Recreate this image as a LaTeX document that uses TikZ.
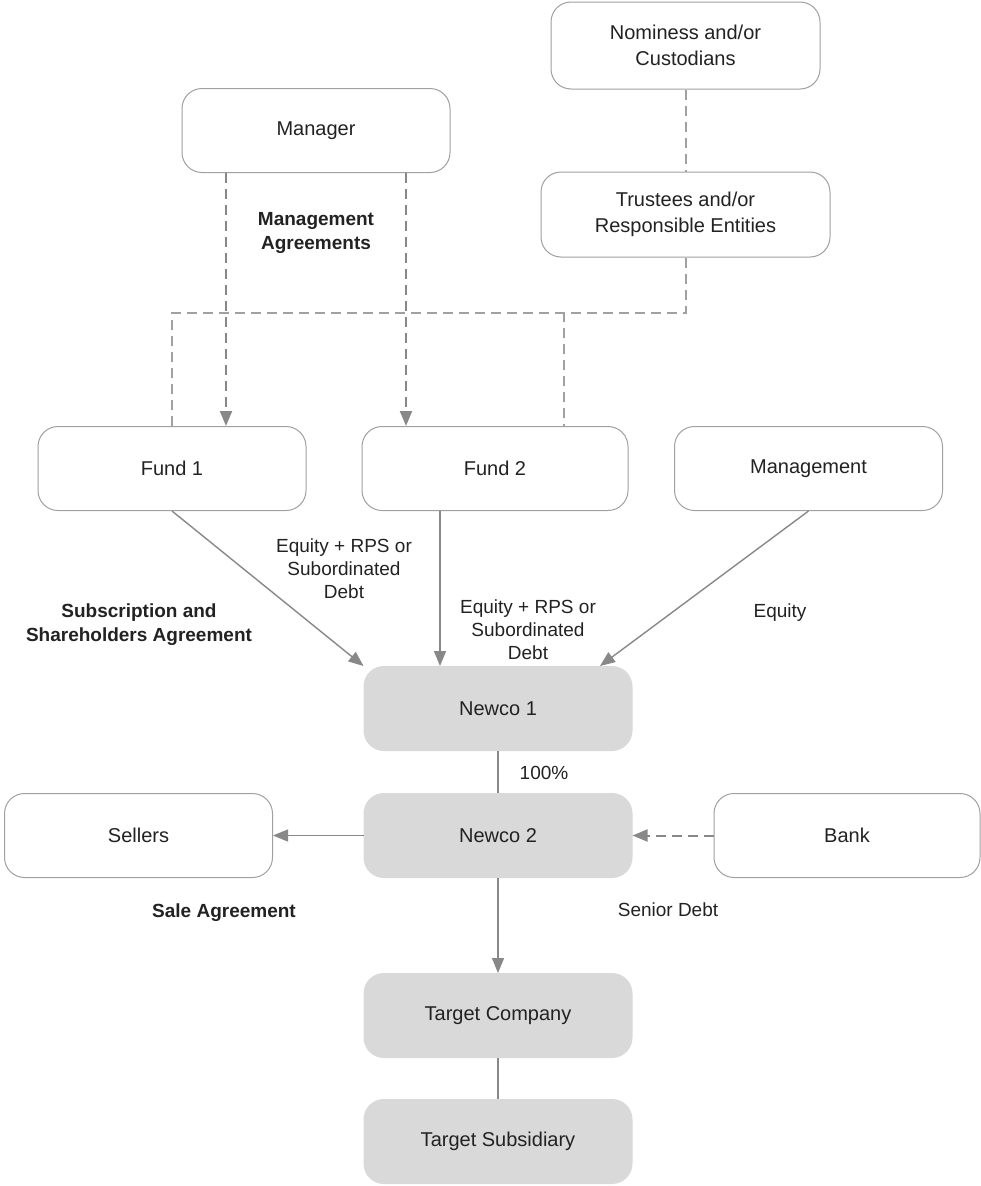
\documentclass[tikz,border=0pt]{standalone}
\usepackage{fontspec}
\setmainfont{Liberation Sans}
\usetikzlibrary{positioning,arrows.meta}
\definecolor{boxline}{HTML}{A0A0A0}
\definecolor{boxfill}{HTML}{D9D9D9}
\definecolor{arrowgray}{HTML}{888888}
\definecolor{textgray}{HTML}{222222}
\begin{document}
\begin{tikzpicture}[x=1pt, y=1pt, node distance={127pt},
  party/.style = {draw=boxline, line width=1pt, rounded corners=20pt, fill=white, minimum width=268pt, minimum height=84pt, align=center, text=textgray, font=\fontsize{20}{26}\selectfont},
  entity/.style = {party, draw=boxfill, fill=boxfill},
  lbl/.style = {align=center, text=textgray, font=\fontsize{19}{23}\selectfont},
  boldlbl/.style = {align=center, text=textgray, font=\fontsize{19}{24}\selectfont\bfseries},
  flow/.style = {draw=arrowgray, line width=1.4pt, -{Triangle[length=15pt,width=12pt]}},
  link/.style = {draw=arrowgray, line width=1.4pt},
  dashlink/.style = {draw=boxline, line width=2pt, dash pattern=on 10pt off 6pt},
  dashflow/.style = {dashlink, draw=arrowgray, -{Triangle[length=15pt,width=12pt]}}]
			\useasboundingbox (0,0) rectangle (981,-1186);
			% top row
			\node[party] (manager) at (316,-130.5) {Manager};
			\node[party, minimum width=269pt, minimum height=87pt] (nominees) at (685.5,-45.5) {Nominess and/or\\Custodians};
			\node[party, minimum width=289pt, minimum height=85pt] (trustees) at (685.5,-214.5) {Trustees and/or\\Responsible Entities};
			% funds
			\node[party] (fund1) at (172,-468.5) {Fund 1};
			\node[party, minimum width=266pt] (fund2) at (495,-468.5) {Fund 2};
			\node[party] (management) at (808.5,-468.5) {Management};
			% acquisition chain
			\node[entity] (newco1) at (498,-708.5) {Newco 1};
			\node[entity] (newco2) [below of=newco1] {Newco 2};
			\node[party] (sellers) [left of=newco2, node distance=359.5pt] {Sellers};
			\node[party, minimum width=266pt] (bank) [right of=newco2, node distance=349pt] {Bank};
			\node[entity] (target) [below of=newco2, node distance=180pt] {Target Company};
			\node[entity] (subsidiary) [below of=target, node distance=126pt] {Target Subsidiary};
			% labels
			\node[boldlbl] (mgmtagr) at (316,-233) {Management\\Agreements};
			\node[lbl] (eq1) at (344,-569) {Equity + RPS or\\Subordinated\\Debt};
			\node[lbl] (eq2) at (528,-630) {Equity + RPS or\\Subordinated\\Debt};
			\node[boldlbl] (subscr) at (139,-625) {Subscription and\\Shareholders Agreement};
			\node[lbl] (eq3) at (780,-613) {Equity};
			\node[lbl] (pct) at (544,-773) {100\%};
			\node[boldlbl] (saleagr) at (224,-913) {Sale Agreement};
			\node[lbl] (senior) at (668,-910) {Senior Debt};
			% trustee links
			\coordinate (branch) at (564,-312);
			\coordinate (mgrL) at ([xshift=-90pt]manager.south);
			\coordinate (mgrR) at ([xshift=90pt]manager.south);
			\coordinate (f2out) at ([xshift=-55pt]fund2.south);
			\draw[dashlink] (nominees) -- (trustees);
			\draw[dashlink] (trustees.south) -- ++(0,-55) -| (fund1.north);
			\draw[dashlink] (branch) -- (branch |- fund2.north);
			\draw[dashflow] (mgrL) -- (mgrL |- fund1.north);
			\draw[dashflow] (mgrR) -- (mgrR |- fund2.north);
			% money flows
			\draw[flow] (fund1.south) -- (newco1.north west);
			\draw[flow] (f2out) -- (f2out |- newco1.north);
			\draw[flow] (management.south) -- ([xshift=102pt]newco1.north);
			\draw[link] (newco1) -- (newco2);
			\draw[flow] (newco2) -- (sellers);
			\draw[dashflow] (bank) -- (newco2);
			\draw[flow] (newco2) -- (target);
			\draw[link] (target) -- (subsidiary);
		\end{tikzpicture}
\end{document}
